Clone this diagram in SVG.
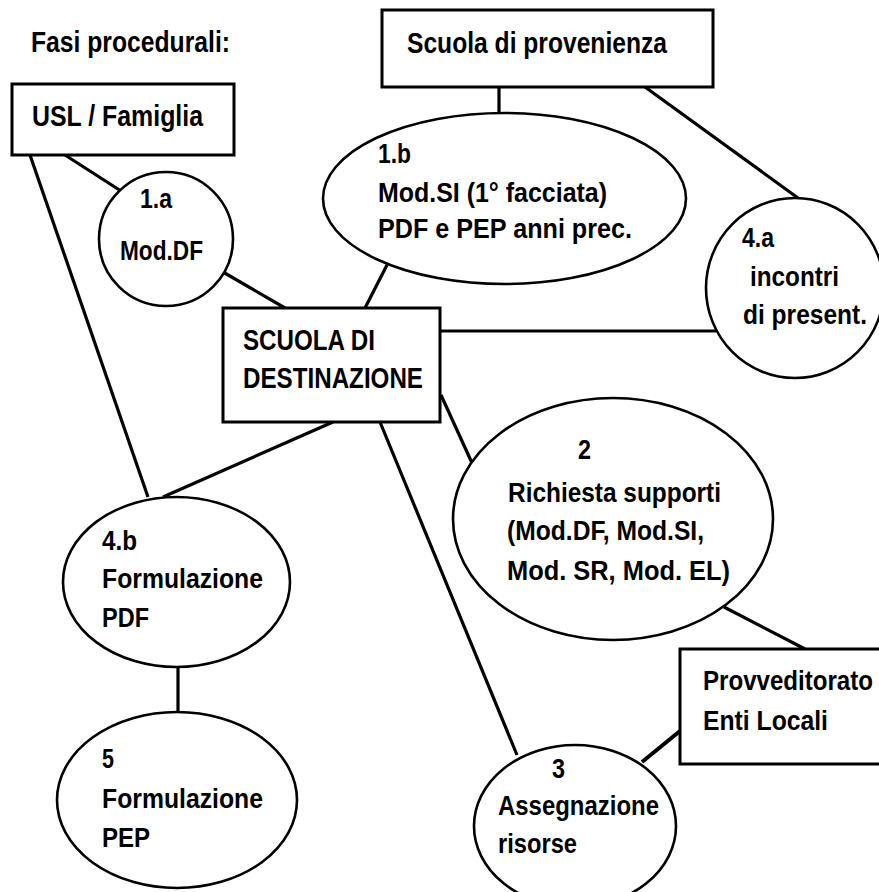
<svg xmlns="http://www.w3.org/2000/svg" width="879" height="892" viewBox="0 0 879 892">
<style>
.bg{fill:#fff}
.box{fill:#fff;stroke:#000;stroke-width:3}
.ell{fill:#fff;stroke:#000;stroke-width:2.6}
.con line{stroke:#000;stroke-width:3.2;stroke-linecap:butt}
text{font-family:"Liberation Sans Narrow","Liberation Sans",Arial,sans-serif;font-weight:bold;fill:#000;font-size:27px}
.big{font-size:29px}
</style>
<rect class="bg" x="0" y="0" width="879" height="892"/>
<g id="connectors" class="con">
<line x1="65" y1="155" x2="121" y2="191"/>
<line x1="30" y1="155" x2="148" y2="497"/>
<line x1="499" y1="87" x2="499" y2="113"/>
<line x1="645" y1="87" x2="798" y2="198"/>
<line x1="223" y1="272" x2="285" y2="308"/>
<line x1="387" y1="265" x2="365" y2="308"/>
<line x1="440" y1="331" x2="716" y2="331"/>
<line x1="441" y1="395" x2="472" y2="463"/>
<line x1="333" y1="422" x2="163" y2="497"/>
<line x1="380" y1="422" x2="517" y2="755"/>
<line x1="724" y1="607" x2="805" y2="649"/>
<line x1="642" y1="762" x2="680" y2="731" style="stroke-width:4"/>
<line x1="178" y1="667" x2="178" y2="712"/>
</g>
<g id="title">
<text class="big" x="31" y="52" textLength="199" lengthAdjust="spacingAndGlyphs">Fasi procedurali:</text>
</g>
<g id="scuola-provenienza">
<rect class="box" x="382" y="10" width="331" height="77"/>
<text class="big" x="407" y="53" textLength="260" lengthAdjust="spacingAndGlyphs">Scuola di provenienza</text>
</g>
<g id="usl-famiglia">
<rect class="box" x="12" y="84" width="222" height="71"/>
<text class="big" x="32" y="126" textLength="171" lengthAdjust="spacingAndGlyphs">USL / Famiglia</text>
</g>
<g id="n1a">
<ellipse class="ell" cx="166" cy="239" rx="67" ry="67"/>
<text x="140" y="208" textLength="32" lengthAdjust="spacingAndGlyphs">1.a</text>
<text x="120" y="260" textLength="83" lengthAdjust="spacingAndGlyphs">Mod.DF</text>
</g>
<g id="n1b">
<ellipse class="ell" cx="504.5" cy="198.5" rx="181.5" ry="85.5"/>
<text x="378" y="163" textLength="33" lengthAdjust="spacingAndGlyphs">1.b</text>
<text x="378" y="202" textLength="229" lengthAdjust="spacingAndGlyphs">Mod.SI (1° facciata)</text>
<text x="378" y="238" textLength="254" lengthAdjust="spacingAndGlyphs">PDF e PEP anni prec.</text>
</g>
<g id="n4a">
<ellipse class="ell" cx="795" cy="288" rx="89" ry="90"/>
<text x="742" y="247" textLength="32" lengthAdjust="spacingAndGlyphs">4.a</text>
<text x="750" y="286" textLength="89" lengthAdjust="spacingAndGlyphs">incontri</text>
<text x="743" y="324" textLength="124" lengthAdjust="spacingAndGlyphs">di present.</text>
</g>
<g id="scuola-destinazione">
<rect class="box" x="223" y="308" width="217" height="114"/>
<text class="big" x="243" y="350" textLength="132" lengthAdjust="spacingAndGlyphs">SCUOLA DI</text>
<text class="big" x="243" y="388" textLength="180" lengthAdjust="spacingAndGlyphs">DESTINAZIONE</text>
</g>
<g id="n2">
<ellipse class="ell" cx="613" cy="519" rx="160" ry="121"/>
<text x="578" y="459" textLength="13" lengthAdjust="spacingAndGlyphs">2</text>
<text x="508" y="502" textLength="213" lengthAdjust="spacingAndGlyphs">Richiesta supporti</text>
<text x="507" y="540" textLength="197" lengthAdjust="spacingAndGlyphs">(Mod.DF, Mod.SI,</text>
<text x="507" y="580" textLength="223" lengthAdjust="spacingAndGlyphs">Mod. SR, Mod. EL)</text>
</g>
<g id="provveditorato">
<rect class="box" x="680" y="649" width="210" height="115"/>
<text x="703" y="690" textLength="170" lengthAdjust="spacingAndGlyphs">Provveditorato</text>
<text x="703" y="730" textLength="125" lengthAdjust="spacingAndGlyphs">Enti Locali</text>
</g>
<g id="n3">
<ellipse class="ell" cx="575" cy="826" rx="101" ry="81"/>
<text x="552" y="778" textLength="13" lengthAdjust="spacingAndGlyphs">3</text>
<text x="498" y="815" textLength="161" lengthAdjust="spacingAndGlyphs">Assegnazione</text>
<text x="498" y="853" textLength="79" lengthAdjust="spacingAndGlyphs">risorse</text>
</g>
<g id="n4b">
<ellipse class="ell" cx="176.5" cy="582" rx="113.5" ry="85"/>
<text x="102" y="550" textLength="35" lengthAdjust="spacingAndGlyphs">4.b</text>
<text x="102" y="588" textLength="161" lengthAdjust="spacingAndGlyphs">Formulazione</text>
<text x="102" y="627" textLength="47" lengthAdjust="spacingAndGlyphs">PDF</text>
</g>
<g id="n5">
<ellipse class="ell" cx="177" cy="800" rx="120" ry="88"/>
<text x="102" y="768" textLength="12" lengthAdjust="spacingAndGlyphs">5</text>
<text x="102" y="808" textLength="161" lengthAdjust="spacingAndGlyphs">Formulazione</text>
<text x="102" y="847" textLength="48" lengthAdjust="spacingAndGlyphs">PEP</text>
</g>
</svg>
